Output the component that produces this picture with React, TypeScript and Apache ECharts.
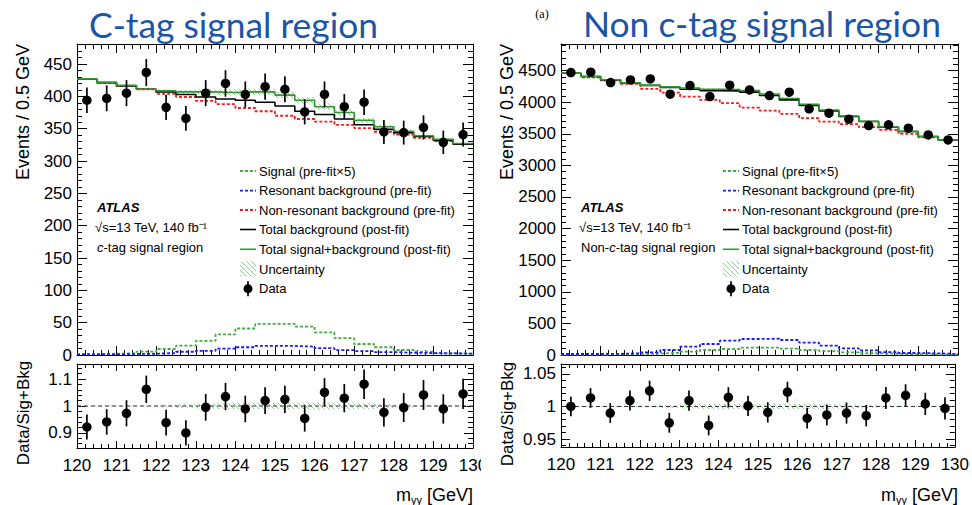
import React, { useEffect, useRef } from "react";
import * as echarts from "echarts";

// ---------- data ----------
const BIN_EDGES = [120, 120.5, 121, 121.5, 122, 122.5, 123, 123.5, 124, 124.5, 125, 125.5, 126, 126.5, 127, 127.5, 128, 128.5, 129, 129.5, 130];
const BIN_CENTERS = [120.25, 120.75, 121.25, 121.75, 122.25, 122.75, 123.25, 123.75, 124.25, 124.75, 125.25, 125.75, 126.25, 126.75, 127.25, 127.75, 128.25, 128.75, 129.25, 129.75];

// c-tag signal region
const CTAG_DATA = [394, 397, 405, 437, 383, 366, 405, 420, 403, 415, 411, 376, 403, 384, 391, 345, 344, 352, 329, 341];
const CTAG_SIG_BKG_POST = [427, 422, 417, 411, 408.5, 407, 407, 406, 407, 407, 402, 394, 384, 375, 363, 353, 346, 339, 333.5, 327];
const CTAG_BKG_POST = [427, 421, 416, 411, 407, 403, 399, 396, 394, 391, 385, 377, 372, 365, 356, 349, 344, 338, 332, 326];
const CTAG_NONRES_PRE = [427, 421, 416, 411, 404, 399, 393, 388, 382, 377, 370, 365, 361, 356, 351, 345, 341, 336, 331, 326];
const CTAG_RES_PRE = [1, 1, 1.5, 2, 3, 5, 6.5, 10, 12, 14, 14, 13, 10.5, 7.5, 6, 4.5, 3.5, 3, 2.5, 2];
const CTAG_SIGNAL_PRE_X5 = [1.5, 2, 2.6, 5.2, 9.3, 14.4, 22, 32, 41, 48, 48, 44, 35, 26, 17, 12, 7.7, 5.2, 3, 2];
const CTAG_UNC = [1, 1, 1, 1, 2, 3, 4, 5, 5, 5, 5, 5, 5, 5, 4, 3, 2, 1, 1, 1];
const CTAG_RATIO = [0.922, 0.941, 0.973, 1.062, 0.938, 0.9, 0.995, 1.035, 0.989, 1.02, 1.025, 0.954, 1.051, 1.029, 1.081, 0.976, 0.994, 1.041, 0.989, 1.045];

// non-c-tag signal region
const NONC_DATA = [4468, 4474, 4310, 4352, 4368, 4126, 4263, 4089, 4268, 4194, 4104, 4158, 3894, 3826, 3730, 3630, 3641, 3588, 3482, 3403];
const NONC_SIG_BKG_POST = [4460, 4407, 4355, 4305, 4270, 4242, 4222, 4205, 4200, 4185, 4130, 4058, 3965, 3875, 3780, 3698, 3607, 3537, 3457, 3404];
const NONC_BKG_POST = [4458, 4405, 4352, 4300, 4263, 4231, 4205, 4183, 4178, 4158, 4105, 4036, 3946, 3862, 3772, 3693, 3604, 3535, 3456, 3403];
const NONC_NONRES_PRE = [4458, 4394, 4342, 4289, 4210, 4152, 4089, 4036, 3984, 3914, 3867, 3815, 3746, 3693, 3652, 3604, 3561, 3498, 3445, 3403];
const NONC_RES_PRE = [16, 16, 18, 26, 42, 79, 132, 174, 227, 253, 258, 237, 195, 148, 106, 74, 47, 32, 26, 16];
const NONC_SIGNAL_PRE_X5 = [5, 7, 10, 15, 24, 35, 53, 79, 95, 116, 116, 100, 79, 60, 42, 28, 18, 12, 8, 6];
const NONC_UNC = [3, 3, 3, 4, 6, 10, 14, 16, 17, 17, 17, 17, 16, 15, 12, 8, 5, 3, 3, 3];
const NONC_RATIO = [1.0, 1.013, 0.99, 1.009, 1.024, 0.975, 1.009, 0.971, 1.014, 1.001, 0.991, 1.022, 0.982, 0.987, 0.99, 0.986, 1.013, 1.017, 1.004, 0.997];

// axis ticks
const CTAG_Y_TICKS = [0, 50, 100, 150, 200, 250, 300, 350, 400, 450];
const NONC_Y_TICKS = [0, 500, 1000, 1500, 2000, 2500, 3000, 3500, 4000, 4500];
const CTAG_RATIO_TICKS = [0.9, 1, 1.1];
const NONC_RATIO_TICKS = [0.95, 1, 1.05];

const LEGEND_LABELS = [
  "Signal (pre-fit×5)",
  "Resonant background (pre-fit)",
  "Non-resonant background (pre-fit)",
  "Total background (post-fit)",
  "Total signal+background (post-fit)",
  "Uncertainty",
  "Data",
];

// ---------- styling ----------
const FONT = "'Liberation Sans', Arial, Helvetica, sans-serif";
const BLUE_TITLE = "#1b55a6";
const GREEN = "#2f9a2f";
const GREEN_D = "#46ab46";
const RED = "#ff1a1a";
const BLUE = "#1a1aff";

function range(a: number, b: number, step: number) {
  const out: number[] = [];
  for (let i = 0; a + i * step <= b + 1e-9; i++) out.push(Math.round((a + i * step) * 1e6) / 1e6);
  return out;
}
function minorsOf(a: number, b: number, step: number, majors: number[]) {
  return range(a, b, step).filter((v) => !majors.some((m) => Math.abs(m - v) < 1e-6));
}

function stepPoints(vals: number[]) {
  const pts: number[][] = [];
  vals.forEach((v, i) => {
    pts.push([BIN_EDGES[i], v]);
    pts.push([BIN_EDGES[i + 1], v]);
  });
  return pts;
}

function fmt(v: number) {
  return String(Math.round(v * 1000) / 1000);
}

function xAxisSet(g: number, showLabels: boolean, major: number, minor: number) {
  const common: any = {
    type: "value",
    gridIndex: g,
    min: 120,
    max: 130,
    interval: 1,
    splitLine: { show: false },
    axisLine: { show: true, onZero: false, lineStyle: { color: "#000", width: 1 } },
    axisTick: { show: true, inside: true, length: major, lineStyle: { color: "#000", width: 1 } },
    minorTick: { show: true, splitNumber: 5, length: minor, lineStyle: { color: "#000", width: 1 } },
    minorSplitLine: { show: false },
  };
  return [
    { ...common, position: "bottom", axisLabel: { show: showLabels, fontSize: 17, fontFamily: FONT, color: "#000", margin: 9 } },
    { ...common, position: "top", axisLabel: { show: false } },
  ];
}

function yAxisSet(g: number, min: number, max: number, majors: number[], minors: number[], major: number, minor: number) {
  const common: any = {
    type: "value",
    gridIndex: g,
    min,
    max,
    splitLine: { show: false },
    axisLine: { show: true, onZero: false, lineStyle: { color: "#000", width: 1 } },
  };
  const majTick = { show: true, inside: true, length: major, customValues: majors, lineStyle: { color: "#000", width: 1 } };
  const minTick = { show: true, inside: true, length: minor, customValues: minors, lineStyle: { color: "#000", width: 1 } };
  return [
    {
      ...common,
      position: "left",
      axisTick: majTick,
      axisLabel: { show: true, customValues: majors, formatter: fmt, fontSize: 17, fontFamily: FONT, color: "#000", margin: 5 },
    },
    { ...common, position: "left", axisLine: { show: false }, axisTick: minTick, axisLabel: { show: false } },
    { ...common, position: "right", axisTick: majTick, axisLabel: { show: false } },
    { ...common, position: "right", axisLine: { show: false }, axisTick: minTick, axisLabel: { show: false } },
  ];
}

function stepSeries(xi: number, yi: number, vals: number[], color: string, dashed: boolean, z: number) {
  return {
    type: "line",
    xAxisIndex: xi,
    yAxisIndex: yi,
    data: stepPoints(vals),
    symbol: "none",
    silent: true,
    z,
    lineStyle: { color, width: dashed ? 1.8 : 1.6, type: dashed ? [3, 2] : "solid" },
  };
}

function bandSeries(xi: number, yi: number, lo: number[], hi: number[], fill: any) {
  return {
    type: "custom",
    xAxisIndex: xi,
    yAxisIndex: yi,
    silent: true,
    z: 1,
    encode: { x: [0, 1], y: [2, 3] },
    data: lo.map((l, i) => [BIN_EDGES[i], BIN_EDGES[i + 1], l, hi[i]]),
    renderItem: (params: any, api: any) => {
      const a = api.coord([api.value(0), api.value(3)]);
      const b = api.coord([api.value(1), api.value(2)]);
      return {
        type: "rect",
        shape: { x: a[0], y: a[1], width: b[0] - a[0], height: b[1] - a[1] },
        style: { fill },
      };
    },
  };
}

function errorSeries(xi: number, yi: number, vals: number[], errs: number[]) {
  return {
    type: "custom",
    xAxisIndex: xi,
    yAxisIndex: yi,
    silent: true,
    z: 5,
    encode: { x: 0, y: 1 },
    data: vals.map((v, i) => [BIN_CENTERS[i], v, errs[i]]),
    renderItem: (params: any, api: any) => {
      const t = api.coord([api.value(0), api.value(1) + api.value(2)]);
      const b = api.coord([api.value(0), api.value(1) - api.value(2)]);
      return { type: "line", shape: { x1: t[0], y1: t[1], x2: b[0], y2: b[1] }, style: { stroke: "#000", lineWidth: 1.7 } };
    },
  };
}

function pointSeries(xi: number, yi: number, vals: number[]) {
  return {
    type: "scatter",
    xAxisIndex: xi,
    yAxisIndex: yi,
    silent: true,
    z: 6,
    symbol: "circle",
    symbolSize: 9.5,
    itemStyle: { color: "#000", opacity: 1 },
    data: vals.map((v, i) => [BIN_CENTERS[i], v]),
  };
}

function panelSeries(
  gTop: number,
  gRatio: number,
  data: number[],
  sigBkg: number[],
  bkg: number[],
  nonres: number[],
  res: number[],
  sig5: number[],
  unc: number[],
  ratio: number[],
  hatch: any
) {
  const xt = gTop * 2, yt = gTop * 4, xr = gRatio * 2, yr = gRatio * 4;
  const dataErr = data.map((v) => Math.sqrt(v));
  const ratioErr = ratio.map((r, i) => r / Math.sqrt(data[i]));
  return [
    bandSeries(xt, yt, sigBkg.map((v, i) => v - unc[i]), sigBkg.map((v, i) => v + unc[i]), hatch),
    stepSeries(xt, yt, sig5, GREEN_D, true, 2),
    stepSeries(xt, yt, res, BLUE, true, 2),
    stepSeries(xt, yt, nonres, RED, true, 2),
    stepSeries(xt, yt, bkg, "#000", false, 3),
    stepSeries(xt, yt, sigBkg, GREEN, false, 3),
    errorSeries(xt, yt, data, dataErr),
    pointSeries(xt, yt, data),
    bandSeries(xr, yr, sigBkg.map((v, i) => 1 - unc[i] / v), sigBkg.map((v, i) => 1 + unc[i] / v), hatch),
    {
      type: "line",
      xAxisIndex: xr,
      yAxisIndex: yr,
      silent: true,
      z: 2,
      symbol: "none",
      data: [[120, 1], [130, 1]],
      lineStyle: { color: "#333", width: 1, type: [4, 3] },
    },
    errorSeries(xr, yr, ratio, ratioErr),
    pointSeries(xr, yr, ratio),
  ];
}

function legendGraphics(x0: number, hatch: any) {
  const ys = [171, 190.7, 210, 229.5, 249.3, 269, 288.7];
  const icons: any[] = [];
  const styles = [
    { stroke: GREEN_D, dash: true },
    { stroke: BLUE, dash: true },
    { stroke: RED, dash: true },
    { stroke: "#000", dash: false },
    { stroke: GREEN, dash: false },
  ];
  styles.forEach((s, i) => {
    icons.push({
      type: "line",
      shape: { x1: x0, y1: ys[i], x2: x0 + 16, y2: ys[i] },
      style: { stroke: s.stroke, lineWidth: s.dash ? 1.8 : 1.6, lineDash: s.dash ? [3, 2] : null },
    });
  });
  icons.push({ type: "rect", shape: { x: x0, y: ys[5] - 7.5, width: 16, height: 15 }, style: { fill: hatch } });
  icons.push({ type: "line", shape: { x1: x0 + 8, y1: ys[6] - 7.5, x2: x0 + 8, y2: ys[6] + 7.5 }, style: { stroke: "#000", lineWidth: 1.7 } });
  icons.push({ type: "circle", shape: { cx: x0 + 8, cy: ys[6], r: 4.5 }, style: { fill: "#000" } });
  LEGEND_LABELS.forEach((t, i) => {
    icons.push({
      type: "text",
      x: x0 + 19,
      y: ys[i],
      style: { text: t, fontFamily: FONT, fontSize: 13, fill: "#000", align: "left", verticalAlign: "middle" },
    });
  });
  return icons;
}

function measure(text: string, font: string) {
  const c = document.createElement("canvas").getContext("2d");
  if (!c) return 1;
  c.font = font;
  return c.measureText(text).width || 1;
}

function makeHatch() {
  const c = document.createElement("canvas");
  c.width = 5;
  c.height = 5;
  const ctx = c.getContext("2d");
  if (ctx) {
    ctx.strokeStyle = "rgba(110,195,110,0.8)";
    ctx.lineWidth = 1;
    ctx.beginPath();
    ctx.moveTo(-1, -1);
    ctx.lineTo(6, 6);
    ctx.moveTo(-1, 4);
    ctx.lineTo(1, 6);
    ctx.moveTo(4, -1);
    ctx.lineTo(6, 1);
    ctx.stroke();
  }
  return { image: c, repeat: "repeat" };
}

function massTitle(xRight: number) {
  return {
    type: "text",
    x: xRight,
    y: 495,
    style: {
      text: "{m|m}{s|γγ} [GeV]",
      fontFamily: FONT,
      fontSize: 18,
      fill: "#000",
      align: "right",
      verticalAlign: "middle",
      rich: {
        m: { fontFamily: FONT, fontSize: 18, fill: "#000", lineHeight: 20, verticalAlign: "middle" },
        s: { fontFamily: FONT, fontSize: 11, fill: "#000", lineHeight: 12, verticalAlign: "bottom" },
      },
    },
  };
}

function buildOption() {
  const hatch = makeHatch();
  const grids = [
    { left: 77, top: 44, width: 396, height: 311 },
    { left: 77, top: 364, width: 396, height: 84 },
    { left: 561, top: 44, width: 397, height: 311 },
    { left: 561, top: 364, width: 397, height: 83 },
  ];
  const xAxis = [
    ...xAxisSet(0, false, 9, 5),
    ...xAxisSet(1, true, 7, 4),
    ...xAxisSet(2, false, 9, 5),
    ...xAxisSet(3, true, 7, 4),
  ];
  const yAxis = [
    ...yAxisSet(0, 0, 481, CTAG_Y_TICKS, minorsOf(0, 480, 10, CTAG_Y_TICKS), 10, 5),
    ...yAxisSet(1, 0.844, 1.156, CTAG_RATIO_TICKS, minorsOf(0.86, 1.14, 0.02, CTAG_RATIO_TICKS), 9, 5),
    ...yAxisSet(2, 0, 4920, NONC_Y_TICKS, minorsOf(0, 4900, 100, NONC_Y_TICKS), 10, 5),
    ...yAxisSet(3, 0.938, 1.065, NONC_RATIO_TICKS, minorsOf(0.94, 1.06, 0.01, NONC_RATIO_TICKS), 9, 5),
  ];
  const series = [
    ...panelSeries(0, 1, CTAG_DATA, CTAG_SIG_BKG_POST, CTAG_BKG_POST, CTAG_NONRES_PRE, CTAG_RES_PRE, CTAG_SIGNAL_PRE_X5, CTAG_UNC, CTAG_RATIO, hatch),
    ...panelSeries(2, 3, NONC_DATA, NONC_SIG_BKG_POST, NONC_BKG_POST, NONC_NONRES_PRE, NONC_RES_PRE, NONC_SIGNAL_PRE_X5, NONC_UNC, NONC_RATIO, hatch),
  ];

  const titleFont = "400 35px Lato";
  const t1 = "C-tag signal region";
  const t2 = "Non c-tag signal region";
  const s1 = 289 / measure(t1, titleFont);
  const s2 = 358 / measure(t2, titleFont);

  const txt = (x: number, y: number, text: string, extra: any = {}, props: any = {}) => ({
    type: "text",
    x,
    y,
    ...props,
    style: { text, fontFamily: FONT, fontSize: 13, fill: "#000", align: "left", verticalAlign: "middle", ...extra },
  });

  const graphic: any[] = [
    { type: "text", x: 89, y: 24, scaleX: s1, style: { text: t1, fontFamily: "Lato", fontSize: 35, fill: BLUE_TITLE, align: "left", verticalAlign: "middle" } },
    { type: "text", x: 583, y: 24, scaleX: s2, style: { text: t2, fontFamily: "Lato", fontSize: 35, fill: BLUE_TITLE, align: "left", verticalAlign: "middle" } },
    txt(542, 14, "(a)", { fontFamily: "'Liberation Serif', serif", fontSize: 12, align: "center" }),
    // axis titles
    txt(23, 44, "Events / 0.5 GeV", { fontSize: 18, align: "right" }, { rotation: Math.PI / 2 }),
    txt(507, 44, "Events / 0.5 GeV", { fontSize: 18, align: "right" }, { rotation: Math.PI / 2 }),
    txt(23, 413, "Data/Sig+Bkg", { fontSize: 17, align: "center" }, { rotation: Math.PI / 2 }),
    txt(507, 414, "Data/Sig+Bkg", { fontSize: 17, align: "center" }, { rotation: Math.PI / 2 }),
    massTitle(473),
    massTitle(958),
    // ATLAS labels
    txt(97, 207, "ATLAS", { fontWeight: "bold", fontStyle: "italic" }),
    txt(95, 227, "√s=13 TeV, 140 fb⁻¹"),
    {
      type: "text",
      x: 97,
      y: 247,
      style: {
        text: "{i|c}-tag signal region",
        fontFamily: FONT,
        fontSize: 13,
        fill: "#000",
        align: "left",
        verticalAlign: "middle",
        rich: { i: { fontStyle: "italic", fontFamily: FONT, fontSize: 13, fill: "#000" } },
      },
    },
    txt(581, 207, "ATLAS", { fontWeight: "bold", fontStyle: "italic" }),
    txt(579, 227, "√s=13 TeV, 140 fb⁻¹"),
    {
      type: "text",
      x: 581,
      y: 247,
      style: {
        text: "Non-{i|c}-tag signal region",
        fontFamily: FONT,
        fontSize: 13,
        fill: "#000",
        align: "left",
        verticalAlign: "middle",
        rich: { i: { fontStyle: "italic", fontFamily: FONT, fontSize: 13, fill: "#000" } },
      },
    },
    ...legendGraphics(240, hatch),
    ...legendGraphics(723, hatch),
    // right panel covers the tail of the left "130" label
    { type: "rect", z: 100, shape: { x: 481, y: 455, width: 12, height: 24 }, style: { fill: "#fff" } },
  ];

  return {
    animation: false,
    backgroundColor: "#fff",
    grid: grids,
    xAxis,
    yAxis,
    series,
    graphic: { elements: graphic },
  };
}

export default function App() {
  const ref = useRef<HTMLDivElement>(null);
  useEffect(() => {
    if (!ref.current) return;
    const chart = echarts.init(ref.current, null, { renderer: "svg" });
    chart.setOption(buildOption() as any);
    return () => chart.dispose();
  }, []);
  return <div ref={ref} style={{ position: "fixed", left: 0, top: 0, width: 972, height: 505, background: "#fff" }} />;
}
